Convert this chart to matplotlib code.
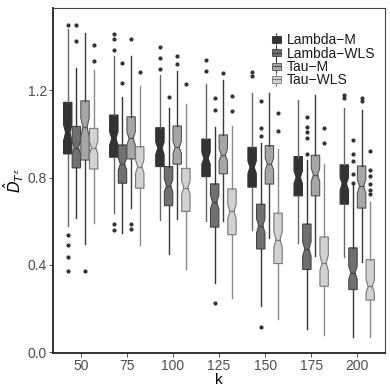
import numpy as np
import matplotlib
matplotlib.use("Agg")
import matplotlib.pyplot as plt
from matplotlib.legend_handler import HandlerBase
from matplotlib.patches import Rectangle
from matplotlib.lines import Line2D

plt.rcParams["font.family"] = ["Liberation Sans", "DejaVu Sans"]

k_values = ["50", "75", "100", "125", "150", "175", "200"]
methods = ["Lambda\u2212M", "Lambda\u2212WLS", "Tau\u2212M", "Tau\u2212WLS"]

# per method: lower whisker, Q1, median, Q3, upper whisker (one value per k)
lambda_m_lo = [0.576, 0.637, 0.604, 0.599, 0.561, 0.500, 0.436]
lambda_m_q1 = [0.908, 0.893, 0.850, 0.804, 0.756, 0.716, 0.678]
lambda_m_med = [1.005, 0.979, 0.934, 0.888, 0.847, 0.801, 0.771]
lambda_m_q3 = [1.144, 1.086, 1.028, 0.976, 0.938, 0.896, 0.858]
lambda_m_hi = [1.478, 1.355, 1.268, 1.230, 1.185, 1.157, 1.116]
lambda_m_out = [[1.50, 0.538, 0.493, 0.437, 0.373], [1.458, 1.432, 1.382, 0.588, 0.561],
                [1.397, 1.347, 1.296], [1.337, 1.286], [1.283, 1.264], [], [1.178, 1.162]]

lambda_wls_lo = [0.614, 0.546, 0.450, 0.318, 0.211, 0.108, 0.072]
lambda_wls_q1 = [0.844, 0.774, 0.671, 0.573, 0.473, 0.379, 0.287]
lambda_wls_med = [0.937, 0.862, 0.763, 0.687, 0.579, 0.473, 0.364]
lambda_wls_q3 = [1.034, 0.949, 0.850, 0.771, 0.678, 0.587, 0.478]
lambda_wls_hi = [1.299, 1.169, 1.119, 1.032, 0.956, 0.880, 0.766]
lambda_wls_out = [[1.496, 1.425], [1.322, 1.233], [1.169], [1.166, 1.109, 0.227],
                  [1.150, 1.025, 0.990, 0.117], [1.076, 1.033, 1.008, 0.981, 0.909],
                  [0.971, 0.906, 0.875, 0.815, 0.776]]

tau_m_lo = [0.496, 0.660, 0.610, 0.599, 0.523, 0.439, 0.412]
tau_m_q1 = [0.880, 0.885, 0.861, 0.817, 0.770, 0.716, 0.660]
tau_m_med = [1.030, 0.979, 0.938, 0.903, 0.861, 0.812, 0.759]
tau_m_q3 = [1.151, 1.078, 1.036, 0.995, 0.946, 0.902, 0.853]
tau_m_hi = [1.463, 1.355, 1.288, 1.248, 1.185, 1.177, 1.109]
tau_m_out = [[0.373], [1.432, 0.588, 0.564], [1.355, 1.318], [1.280], [], [], [1.165, 1.152]]

tau_wls_lo = [0.592, 0.493, 0.379, 0.249, 0.154, 0.078, 0.072]
tau_wls_q1 = [0.839, 0.751, 0.645, 0.538, 0.406, 0.302, 0.239]
tau_wls_med = [0.937, 0.850, 0.754, 0.645, 0.516, 0.409, 0.302]
tau_wls_q3 = [1.025, 0.941, 0.842, 0.748, 0.637, 0.528, 0.424]
tau_wls_hi = [1.291, 1.218, 1.135, 1.037, 0.929, 0.862, 0.690]
tau_wls_out = [[1.406, 1.332], [1.283], [1.227], [1.174, 1.105], [1.096, 1.013],
               [1.025, 0.956], [0.923, 0.835, 0.807, 0.772, 0.745, 0.725]]

series = [
    (lambda_m_lo, lambda_m_q1, lambda_m_med, lambda_m_q3, lambda_m_hi, lambda_m_out),
    (lambda_wls_lo, lambda_wls_q1, lambda_wls_med, lambda_wls_q3, lambda_wls_hi, lambda_wls_out),
    (tau_m_lo, tau_m_q1, tau_m_med, tau_m_q3, tau_m_hi, tau_m_out),
    (tau_wls_lo, tau_wls_q1, tau_wls_med, tau_wls_q3, tau_wls_hi, tau_wls_out),
]

fills = ["#333333", "#707070", "#a6a6a6", "#d2d2d2"]
edges = ["#333333", "#444444", "#555555", "#777777"]
whisk = ["#666666", "#333333", "#3a3a3a", "#8a8a8a"]
N_OBS = 100  # notch = median +/- 1.58*IQR/sqrt(n), as ggplot does

fig = plt.figure(figsize=(3.9, 3.9), dpi=100)
ax = fig.add_axes([0.136, 0.095, 0.851, 0.884])

dodge = 0.75
n_m = len(methods)
bw = dodge / n_m
x = np.arange(1, len(k_values) + 1)

for i, (lo, q1, med, q3, hi, out) in enumerate(series):
    stats = []
    for j in range(len(k_values)):
        half = 1.58 * (q3[j] - q1[j]) / np.sqrt(N_OBS)
        stats.append(dict(med=med[j], q1=q1[j], q3=q3[j], whislo=lo[j], whishi=hi[j],
                          fliers=out[j], cilo=med[j] - half, cihi=med[j] + half))
    pos = x - dodge / 2 + bw * (i + 0.5)
    ax.bxp(stats, positions=pos, widths=bw * 0.97, shownotches=True, showcaps=False,
           patch_artist=True,
           boxprops=dict(facecolor=fills[i], edgecolor=edges[i], linewidth=0.8),
           medianprops=dict(color=edges[i], linewidth=1.0),
           whiskerprops=dict(color=whisk[i], linewidth=1.0),
           flierprops=dict(marker="o", markersize=2.0, markerfacecolor="#333333",
                           markeredgecolor="#333333", linestyle="none"))


class BoxKey(HandlerBase):
    def create_artists(self, legend, orig, xd, yd, w, h, fs, trans):
        fc, ec, wc = orig
        cx = xd + w / 2
        wl = Line2D([cx, cx], [yd - 1, yd + h + 1], color=wc, lw=0.8, transform=trans)
        r = Rectangle((xd + w * 0.1, yd + h * 0.15), w * 0.8, h * 0.7,
                      facecolor=fc, edgecolor=ec, lw=0.6, transform=trans)
        ml = Line2D([xd + w * 0.1, xd + w * 0.9], [yd + h / 2, yd + h / 2],
                    color=ec, lw=0.8, transform=trans)
        return [wl, r, ml]


handles = [(fills[i], edges[i], whisk[i]) for i in range(n_m)]
ax.legend(handles, methods, handler_map={tuple: BoxKey()}, loc="upper right",
          bbox_to_anchor=(1.0, 0.955), frameon=False, fontsize=10, handlelength=0.8,
          handleheight=0.7, handletextpad=0.35, labelspacing=-0.05, borderpad=0.2,
          labelcolor="#1a1a1a")

ax.set_xlim(0.4, 7.6)
ax.set_ylim(-0.003, 1.575)
ax.set_xticks(x)
ax.set_xticklabels(k_values)
ax.set_yticks([0.0, 0.4, 0.8, 1.2])
ax.set_yticklabels(["0.0", "0.4", "0.8", "1.2"])
ax.tick_params(axis="both", labelsize=10, labelcolor="#4d4d4d", color="#333333",
               length=3, width=0.6, pad=1.5)

for s in ["left", "bottom"]:
    ax.spines[s].set_linewidth(1.3)
    ax.spines[s].set_color("#222222")
for s in ["top", "right"]:
    ax.spines[s].set_linewidth(0.8)
    ax.spines[s].set_color("#444444")

ax.set_xlabel("k", fontsize=11, labelpad=0)
ax.set_ylabel(r"$\hat{D}_{T^{\epsilon}}$", fontsize=11, labelpad=1)

fig.savefig("out.png", dpi=100)
